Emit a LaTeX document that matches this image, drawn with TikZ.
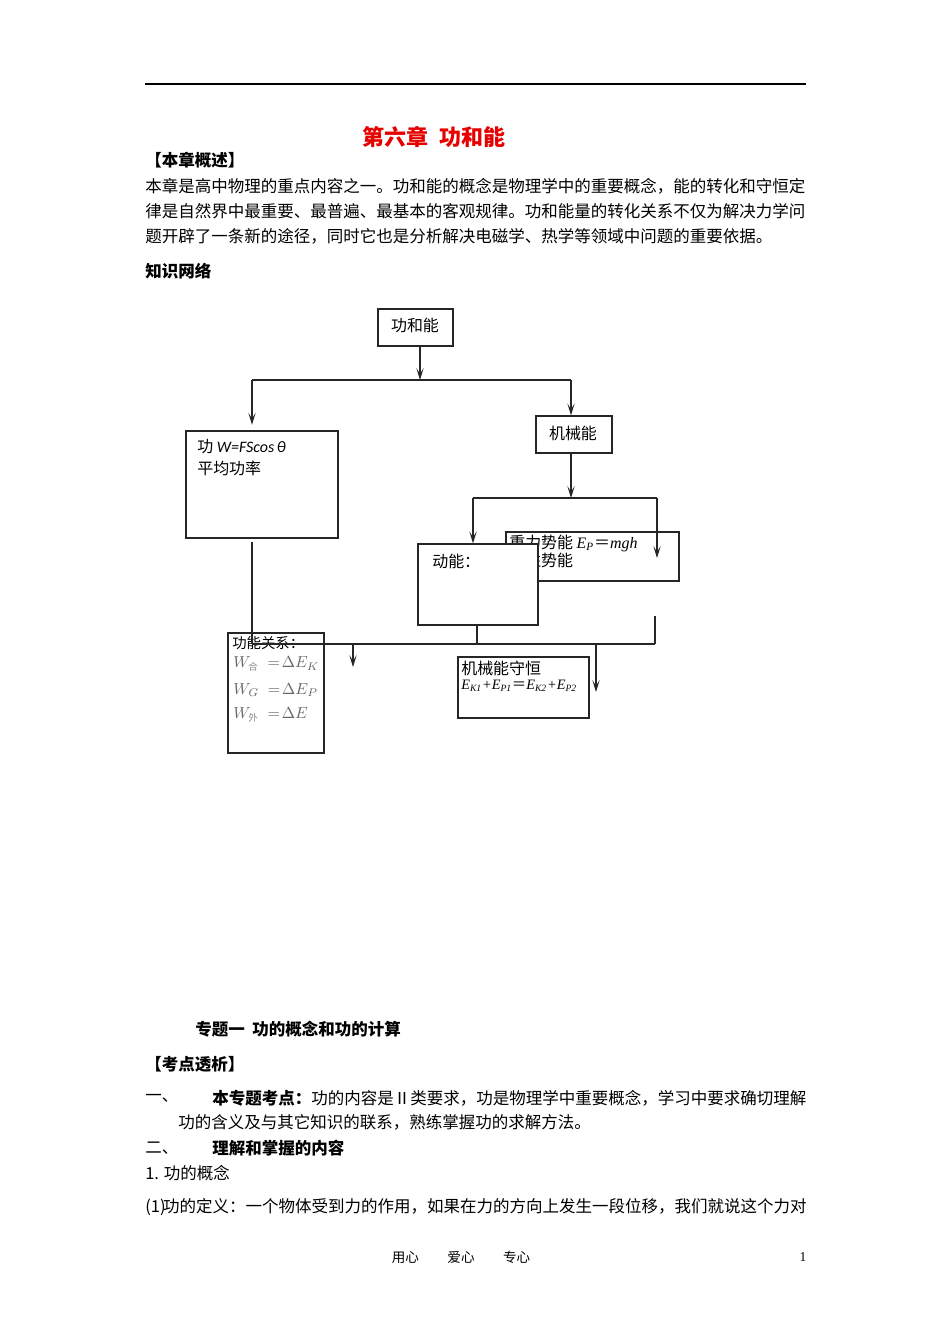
\documentclass[tikz,border=0pt]{standalone}
\usepackage{fontspec}
\setmainfont{Liberation Serif}
\newfontfamily\cjk{Noto Sans CJK SC}
\newfontfamily\calib{Carlito}
\newfontfamily\tms{Liberation Serif}
\usetikzlibrary{arrows.meta}
\newdimen\pxu \pxu=0.6266pt
\definecolor{ttlred}{RGB}{230,0,0}
\tikzset{
  box/.style={draw=black!85, line width=0.8pt, inner sep=0pt, fill=white},
  ln/.style={draw=black!85, line width=0.8pt},
  arr/.style={ln, -{Stealth[length=7.5pt,width=4.6pt,inset=3.6pt]}},
  txt/.style={inner sep=0pt, anchor=west, font=\cjk\fontsize{10.34}{12}\selectfont},
  hd/.style={txt, font=\cjk\bfseries\fontsize{10.34}{12}\selectfont},
  dtxt/.style={inner sep=0pt, anchor=west, font=\cjk\fontsize{10}{12}\selectfont},
  fml/.style={inner sep=0pt, anchor=west, text=black!60, font=\fontsize{10}{12}\selectfont},
}
\newcommand\subcj[1]{\mbox{\cjk\fontsize{6}{7}\selectfont\color{black!45}#1}}
\begin{document}
\begin{tikzpicture}[x=0.6266pt,y=-0.6266pt]
\useasboundingbox (0,0) rectangle (950,1344);
\fill[white] (0,0) rectangle (950,1344);

% header rule
\coordinate (rl) at (145,84);
\coordinate (rr) at (806,84);
\draw[line width=0.9pt] (rl) -- (rr);

% title and intro
\node[inner sep=0pt, text=ttlred, font=\cjk\bfseries\fontsize{13.8}{16}\selectfont] (title) at (434,137) {第六章\ \ 功和能};
\node[hd] (h1) at (145,160) {【本章概述】};
\node[txt] (p1) at (145,186) {本章是高中物理的重点内容之一。功和能的概念是物理学中的重要概念，能的转化和守恒定};
\node[txt] (p2) at (145,211) {律是自然界中最重要、最普遍、最基本的客观规律。功和能量的转化关系不仅为解决力学问};
\node[txt] (p3) at (145,236) {题开辟了一条新的途径，同时它也是分析解决电磁学、热学等领域中问题的重要依据。};
\node[hd] (h2) at (145,271) {知识网络};

% ---------- diagram boxes ----------
\node[box, minimum width=75\pxu, minimum height=37\pxu] (top) at (415.5,327.5) {};
\node[dtxt, anchor=center] (ttop) at (415,325) {功和能};

\node[box, minimum width=152\pxu, minimum height=107\pxu] (gong) at (262,484.5) {};
\node[dtxt] (tg1) at (197,447) {功 {\calib\itshape W=FScos\,θ}};
\node[dtxt] (tg2) at (197,468) {平均功率};

\node[box, minimum width=76\pxu, minimum height=37\pxu] (jxn) at (574,434.5) {};
\node[dtxt, anchor=center] (tjxn) at (573,433) {机械能};

\node[box, minimum width=173\pxu, minimum height=49\pxu] (zl) at (592.5,556.5) {};
\node[dtxt] (tz1) at (509,543) {重力势能 {\tms\itshape E\textsubscript{\scriptsize P}}{\cjk ＝}{\tms\itshape mgh}};
\node[dtxt] (tz2) at (509,560) {弹性势能};

\node[box, minimum width=120\pxu, minimum height=81\pxu] (dn) at (478,584.5) {};
\node[dtxt] (tdn) at (432,561) {动能：};

\node[box, minimum width=96\pxu, minimum height=120\pxu] (gngx) at (276,693) {};
\node[dtxt, font=\cjk\fontsize{9}{11}\selectfont] (tgx) at (232,643) {功能关系：};
\node[fml] (f1) at (233,664) {$W_{\subcj{合}}\;=\!\Delta E_{K}$};
\node[fml] (f2) at (233,690) {$W_{G}\;=\!\Delta E_{P}$};
\node[fml] (f3) at (233,715) {$W_{\subcj{外}}\;=\!\Delta E$};

\node[box, minimum width=131\pxu, minimum height=61\pxu] (shx) at (523.5,687.5) {};
\node[dtxt] (ts1) at (461,668) {机械能守恒};
\node[inner sep=0pt, anchor=west, font=\tms\itshape\fontsize{9}{11}\selectfont] (ts2) at (461,686)
  {E\textsubscript{K1}+E\textsubscript{P1}{\cjk\upshape ＝}E\textsubscript{K2}+E\textsubscript{P2}};

% ---------- connectors ----------
\coordinate (j1) at (420,380);
\coordinate (hL) at (252,380);
\coordinate (hR) at (571,380);
\draw[arr] (top.south -| j1) -- (j1);
\draw[ln] (hL) -- (hR);
\draw[arr, shorten >=3.5pt] (hL) -- (gong.north -| hL);
\draw[arr] (hR) -- (jxn.north -| hR);

\coordinate (j2) at (571,498);
\coordinate (mL) at (473,498);
\coordinate (mR) at (657,498);
\coordinate (mRe) at (657,558);
\draw[arr] (jxn.south -| j2) -- (j2);
\draw[ln] (mL) -- (mR);
\draw[arr] (mL) -- (dn.north -| mL);
\draw[arr] (mR) -- (mRe);

\coordinate (bL) at (252,644);
\coordinate (bR) at (655,644);
\coordinate (bRs) at (655,616);
\coordinate (bD) at (477,644);
\coordinate (gs) at (252,542);
\draw[ln] (gs) -- (bL);
\draw[ln] (dn.south -| bD) -- (bD);
\draw[ln] (bRs) -- (bR);
\draw[ln] (bL) -- (bR);
\coordinate (a1s) at (353,644);
\coordinate (a1e) at (353,667);
\coordinate (a2s) at (596,644);
\coordinate (a2e) at (596,692);
\draw[arr] (a1s) -- (a1e);
\draw[arr] (a2s) -- (a2e);

% ---------- lower text ----------
\node[hd] (h3) at (195,1029) {专题一\ \ 功的概念和功的计算};
\node[hd] (h4) at (145,1064) {【考点透析】};
\node[txt] (n1) at (145,1098) {一、};
\node[txt] (l1) at (212,1098) {{\bfseries 本专题考点：}功的内容是Ⅱ类要求，功是物理学中重要概念，学习中要求确切理解};
\node[txt] (l2) at (178,1122) {功的含义及与其它知识的联系，熟练掌握功的求解方法。};
\node[txt] (n2) at (145,1148) {二、};
\node[hd] (l3) at (212,1148) {理解和掌握的内容};
\node[txt] (l4) at (145,1173) {1. 功的概念};
\node[txt] (l5) at (145,1207) {(1)\kern-0.15em 功的定义：一个物体受到力的作用，如果在力的方向上发生一段位移，我们就说这个力对};
\node[inner sep=0pt, font=\cjk\fontsize{8.5}{10}\selectfont] (foot) at (461,1257) {用心\hspace{2.1em}爱心\hspace{2.1em}专心};
\node[inner sep=0pt, font=\tms\fontsize{8.5}{10}\selectfont] (pg) at (803,1257) {1};
\end{tikzpicture}
\end{document}
